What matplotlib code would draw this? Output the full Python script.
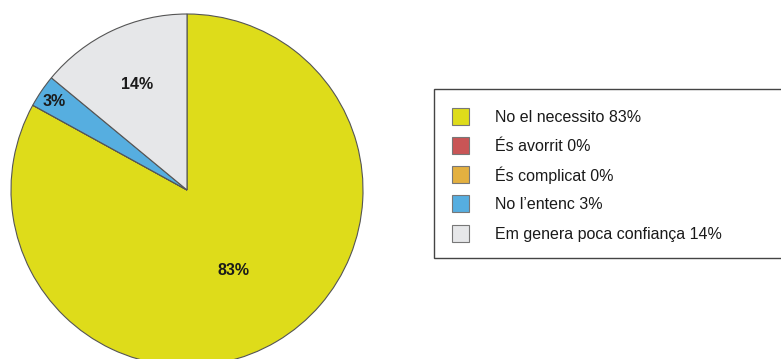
import matplotlib
matplotlib.use("Agg")
import matplotlib.pyplot as plt
from matplotlib.patches import Rectangle
import numpy as np

plt.rcParams['font.family'] = ['Liberation Sans', 'DejaVu Sans']

categories = ["No el necessito", "És avorrit", "És complicat", "No l\u2019entenc", "Em genera poca confiança"]
values = [83, 0, 0, 3, 14]
colors = ["#DEDC1A", "#C95556", "#E3B040", "#56AEE0", "#E6E7E9"]
# distance of the in-wedge percentage labels from the centre (fraction of radius)
label_dist = [0.52, None, None, 0.91, 0.67]

W, H = 781, 359
fig = plt.figure(figsize=(W / 100, H / 100), dpi=100)

def fx(px):
    return px / W

def fy(py):
    return 1 - py / H

# Pie: centre at (187, 190) px, radius 176 px
cx, cy, r = 187, 190, 176
ax = fig.add_axes([0, 0, 1, 1])

wedges, _ = ax.pie(values, colors=colors, startangle=90, counterclock=False,
                   radius=1, wedgeprops=dict(edgecolor='#555555', linewidth=0.8))

ax.set_aspect('auto')
ax.set_xlim(-cx / r, (W - cx) / r)
ax.set_ylim(-(H - cy) / r, cy / r)
ax.axis('off')

for w, v, d in zip(wedges, values, label_dist):
    if v == 0 or d is None:
        continue
    mid = np.deg2rad((w.theta1 + w.theta2) / 2)
    ax.text(d * np.cos(mid), d * np.sin(mid), f"{v}%", ha='center', va='center_baseline',
            fontsize=11.5, fontweight='bold', color='#1a1a1a')

# Legend box
box_l, box_t, box_r, box_b = 434, 89, 800, 258
fig.add_artist(Rectangle((fx(box_l), fy(box_b)), fx(box_r - box_l), (box_b - box_t) / H,
                         transform=fig.transFigure, facecolor='white',
                         edgecolor='#444444', linewidth=1.0, clip_on=False))

row_y0, row_dy = 116, 29.3
sq = 17
for i, (lab, v, c) in enumerate(zip(categories, values, colors)):
    yc = row_y0 + i * row_dy
    fig.add_artist(Rectangle((fx(452), fy(yc + sq / 2)), fx(sq), sq / H,
                             transform=fig.transFigure, facecolor=c,
                             edgecolor='#777777', linewidth=0.8))
    fig.text(fx(495), fy(yc + 1), f"{lab} {v}%", ha='left', va='center',
             fontsize=11.5, color='#1a1a1a')

fig.savefig("out.png", dpi=100)
